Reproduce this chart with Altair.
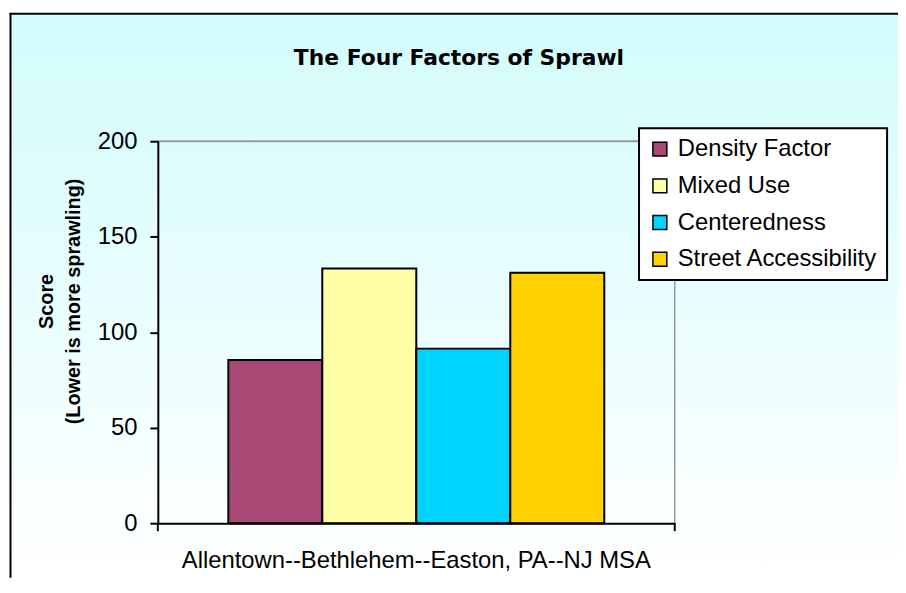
import altair as alt
import pandas as pd

# ---- data ----
regions = ["Allentown--Bethlehem--Easton, PA--NJ MSA"]
factors = ["Density Factor", "Mixed Use", "Centeredness", "Street Accessibility"]
scores = [85.4, 133.4, 91.4, 131.1]
colors = ["#A84874", "#FFFFA8", "#00D3FF", "#FFD300"]
y_ticks = [0, 50, 100, 150, 200]
title_text = "The Four Factors of Sprawl"
y_title = ["Score", "(Lower is more sprawling)"]

W, H = 521, 385
PAD = {"left": 151, "top": 132, "right": 225, "bottom": 55}

df = pd.DataFrame({
    "region": regions * len(factors),
    "factor": factors,
    "score": scores,
})
one = pd.DataFrame({"t": [title_text]})

FONT = "Liberation Sans"

gradient = alt.LinearGradient(
    gradient="linear",
    stops=[alt.GradientStop(color="#D2FCFC", offset=0),
           alt.GradientStop(color="#FFFFFF", offset=1)],
    x1=0, x2=0, y1=0, y2=1,
)

bg = alt.Chart(one).mark_rect(fill=gradient, stroke=None).encode(
    x=alt.value(-148), x2=alt.value(W + PAD["right"]),
    y=alt.value(-128), y2=alt.value(H + PAD["bottom"]),
)

bars = alt.Chart(df).mark_bar(stroke="black", strokeWidth=2).encode(
    x=alt.X("region:N",
            scale=alt.Scale(paddingInner=0, paddingOuter=0),
            axis=alt.Axis(title=None, labelAngle=0, ticks=False, tickSize=0,
                          labelFont=FONT, labelFontSize=24, labelColor="black",
                          labelBaseline="alphabetic", labelPadding=45,
                          domainColor="black", domainWidth=2, zindex=1,
                          labelLimit=800)),
    xOffset=alt.XOffset("factor:N", sort=factors,
                        scale=alt.Scale(paddingInner=0, paddingOuter=0.75)),
    y=alt.Y("score:Q",
            scale=alt.Scale(domain=[0, 200], nice=False),
            axis=alt.Axis(values=y_ticks, grid=False, title=y_title,
                          titleFont=FONT, titleFontSize=20, titleFontWeight="bold",
                          titleColor="black", titleLineHeight=27,
                          titleAngle=270, titleAlign="center",
                          titleBaseline="alphabetic",
                          titleX=-106, titleY=161,
                          labelFont=FONT, labelFontSize=24, labelColor="black",
                          labelPadding=13, tickSize=8, tickColor="black",
                          tickWidth=2, domainColor="black", domainWidth=2,
                          zindex=1)),
    color=alt.Color("factor:N", sort=factors,
                    scale=alt.Scale(domain=factors, range=colors),
                    legend=alt.Legend(title=None, orient="none",
                                      legendX=485, legendY=-13,
                                      fillColor="white", strokeColor="black",
                                      padding=9, rowPadding=13,
                                      symbolType="square", symbolSize=196,
                                      symbolStrokeColor="black",
                                      symbolStrokeWidth=1.5,
                                      labelFont=FONT, labelFontSize=24,
                                      labelColor="black", labelOffset=6,
                                      labelLimit=400, zindex=1)),
)

# outer chart frame (left and top)
frame_left = alt.Chart(one).mark_rule(color="black", strokeWidth=2).encode(
    x=alt.value(-148.5), y=alt.value(-129), y2=alt.value(H + PAD["bottom"]))
frame_top = alt.Chart(one).mark_rule(color="black", strokeWidth=2).encode(
    x=alt.value(-149.5), x2=alt.value(W + PAD["right"]), y=alt.value(-128.5))

# plot-area border (grey top and right)
plot_top = alt.Chart(one).mark_rule(color="#999999", strokeWidth=2).encode(
    x=alt.value(0), x2=alt.value(W), y=alt.value(0))
plot_right = alt.Chart(one).mark_rule(color="#999999", strokeWidth=1.5).encode(
    x=alt.value(W), y=alt.value(0), y2=alt.value(H))

# category-axis tick marks at the plot edges
tick_l = alt.Chart(one).mark_rule(color="black", strokeWidth=2).encode(
    x=alt.value(0), y=alt.value(H), y2=alt.value(H + 8))
tick_r = alt.Chart(one).mark_rule(color="black", strokeWidth=2).encode(
    x=alt.value(W), y=alt.value(H), y2=alt.value(H + 8))

title = alt.Chart(one).mark_text(
    font="DejaVu Sans", fontSize=22, fontWeight="bold", color="black",
    align="center", baseline="alphabetic",
).encode(x=alt.value(303.5), y=alt.value(-77), text="t:N")

chart = alt.layer(
    bg, plot_top, plot_right, bars, frame_left, frame_top, tick_l, tick_r, title
).properties(
    width=W, height=H, padding=PAD,
    autosize=alt.AutoSizeParams(type="none"),
).configure_view(stroke=None).configure_legend(strokeWidth=2)

chart.save("out.html", embed_options={"renderer": "svg", "actions": False})
